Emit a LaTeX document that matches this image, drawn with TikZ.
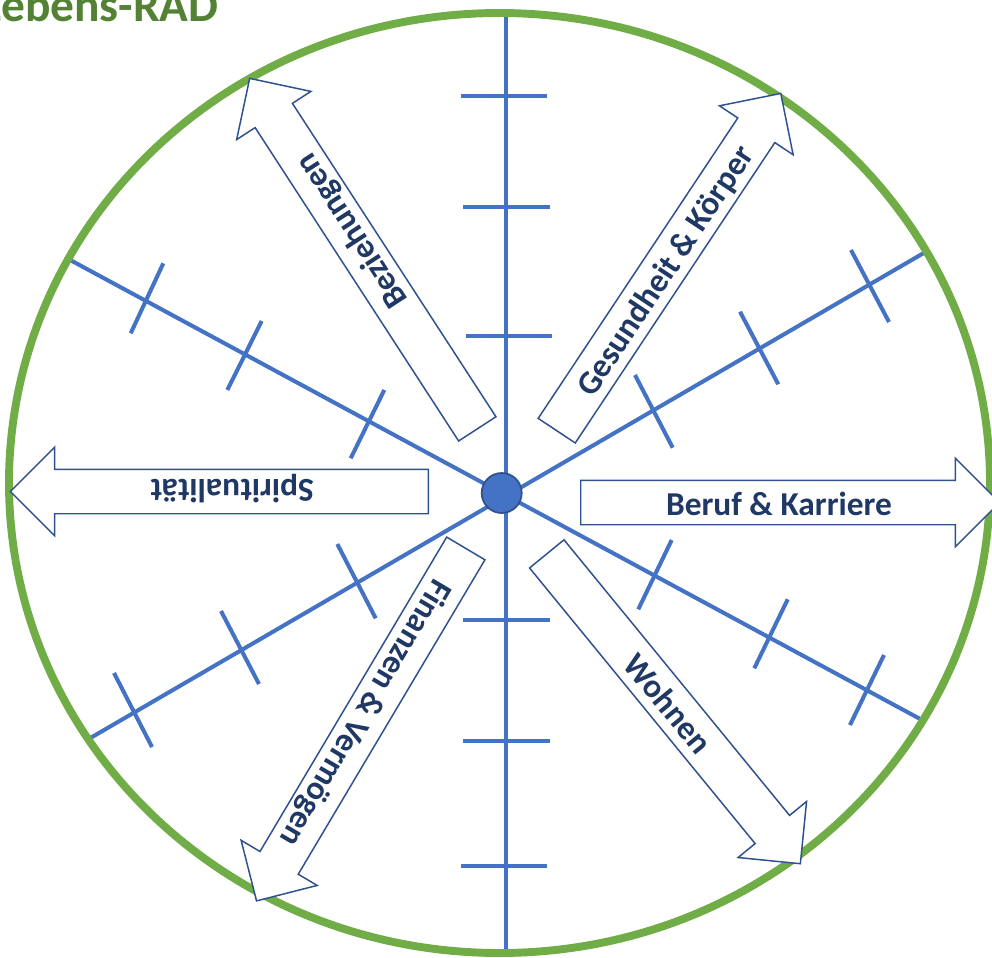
\documentclass[tikz,border=0pt]{standalone}
\usepackage{fontspec}
\setmainfont{Carlito}
\usetikzlibrary{shapes.arrows,calc}
\definecolor{rimgreen}{RGB}{112,173,71}
\definecolor{titlegreen}{RGB}{84,130,53}
\definecolor{spokeblue}{RGB}{68,114,196}
\definecolor{edgeblue}{RGB}{47,82,143}
\definecolor{labelnavy}{RGB}{31,56,100}
\tikzset{
  spoke/.style={spokeblue,line width=2.3pt},
  lifearrow/.style={single arrow,draw=edgeblue,line width=0.85pt,fill=white,
    single arrow head extend=0.44cm,single arrow tip angle=90,
    inner sep=0pt,text height=0.43cm,text depth=0.43cm,anchor=tail},
  arrowlabel/.style={labelnavy,font=\fontsize{19}{19}\selectfont\bfseries,
    inner sep=0pt,text height=0.6cm,text depth=0.1cm}
}
\begin{document}
\begin{tikzpicture}[x=0.02cm,y=-0.02cm]
 \useasboundingbox (0,0) rectangle (992,958);
 \node[titlegreen,font=\fontsize{27}{27}\selectfont\bfseries,anchor=base east,inner sep=0pt] (title) at (219,21.5) {Lebens-RAD};
 \begin{scope}
  \clip (499.5,483) ellipse [x radius=490.5,y radius=470];
  \draw[spoke] (0,222.1)--(1000,762.1);
  \draw[spoke] (0,790.6)--(1000,208.6);
  \draw[spoke] (506,0)--(506,960);
 \end{scope}
 \draw[spoke] (461,95.7)--(546.7,95.7);
 \draw[spoke] (463.3,206.7)--(550,206.7);
 \draw[spoke] (466,335.7)--(552.3,335.7);
 \draw[spoke] (463.3,620)--(550,620);
 \draw[spoke] (463.3,741)--(550,741);
 \draw[spoke] (461,865.7)--(547.3,865.7);
 \draw[spoke] (163.3,263.3)--(130.7,333.3);
 \draw[spoke] (261.7,321)--(227.3,390);
 \draw[spoke] (384.3,390)--(350.7,458.3);
 \draw[spoke] (671.7,540)--(638.3,609.3);
 \draw[spoke] (787.7,599.3)--(754.3,668.3);
 \draw[spoke] (884,655)--(850,725);
 \draw[spoke] (635,375)--(672.7,447.7);
 \draw[spoke] (740,311.7)--(778.3,384.3);
 \draw[spoke] (851,250)--(889,322);
 \draw[spoke] (337.3,544)--(375.7,618.3);
 \draw[spoke] (221,611)--(259,684);
 \draw[spoke] (114,673)--(152,747);
 \draw[rimgreen,line width=4.5pt] (499.5,483) ellipse [x radius=490.5,y radius=470];
 \node[circle,fill=spokeblue,draw=edgeblue,line width=1pt,minimum size=0.8cm,inner sep=0pt] (hub) at (501.7,493) {};
 \node[lifearrow,minimum height=8.38cm,rotate=0] (career) at (580,502.5) {};
 \node[lifearrow,minimum height=8.36cm,rotate=180] (spirit) at (429,491.5) {};
 \node[lifearrow,minimum height=8.1cm,rotate=56.4] (health) at (556.3,431.3) {};
 \node[lifearrow,minimum height=8.36cm,rotate=123] (relations) at (477.7,429.5) {};
 \node[lifearrow,minimum height=8.2cm,rotate=-120.7] (finance) at (466.2,547.8) {};
 \node[lifearrow,minimum height=8.01cm,rotate=-50.7] (home) at (546.3,553.3) {};
 \node[arrowlabel,rotate=0] (careertext) at ($(career.tail)!0.473!(career.tip)$) {Beruf \& Karriere};
 \node[arrowlabel,rotate=180] (spirittext) at ($(spirit.tail)!0.469!(spirit.tip)$) {Spiritualität};
 \node[arrowlabel,rotate=56.4] (healthtext) at ($(health.tail)!0.477!(health.tip)$) {Gesundheit \& Körper};
 \node[arrowlabel,rotate=123] (relationstext) at ($(relations.tail)!0.56!(relations.tip)$) {Beziehungen};
 \node[arrowlabel,rotate=-120.7] (financetext) at ($(finance.tail)!0.47!(finance.tip)$) {Finanzen \& Vermögen};
 \node[arrowlabel,rotate=-50.7] (hometext) at ($(home.tail)!0.481!(home.tip)$) {Wohnen};
\end{tikzpicture}
\end{document}
